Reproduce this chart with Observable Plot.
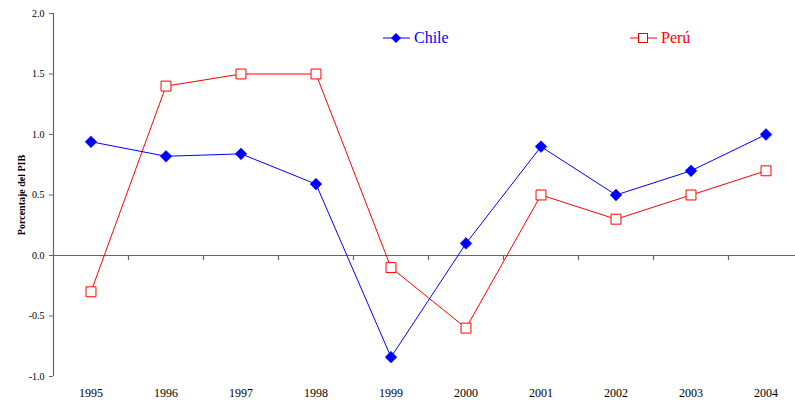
<!DOCTYPE html>
<html>
<head>
<meta charset="utf-8">
<script src="https://cdn.jsdelivr.net/npm/d3@7"></script>
<script src="https://cdn.jsdelivr.net/npm/@observablehq/plot@0.6"></script>
<style>
  body { margin: 0; background: #fff; font-family: "Liberation Serif", serif; }
  #wrap { position: relative; width: 795px; height: 405px; }
  #wrap svg text { font-family: "Liberation Serif", serif; }
  .legend { position: absolute; top: 27px; font-size: 16px; display: flex; align-items: center; font-family: "Liberation Serif", serif; }
  .legend svg { margin-right: 4px; }
</style>
</head>
<body>
<div id="wrap"></div>
<script>
const years = [1995, 1996, 1997, 1998, 1999, 2000, 2001, 2002, 2003, 2004];
const chile = [0.94, 0.82, 0.84, 0.59, -0.84, 0.10, 0.90, 0.50, 0.70, 1.00];
const peru  = [-0.30, 1.40, 1.50, 1.50, -0.10, -0.60, 0.50, 0.30, 0.50, 0.70];
const yTicks = [-1.0, -0.5, 0.0, 0.5, 1.0, 1.5, 2.0];
const seriesNames = ["Chile", "Perú"];
const seriesColors = ["#0000ff", "#ff0000"];

const chileData = years.map((y, i) => ({year: y, value: chile[i]}));
const peruData = years.map((y, i) => ({year: y, value: peru[i]}));
const xDomain = [years[0] - 0.5, years[years.length - 1] + 0.5];
const boundaries = years.slice(1).map(y => y - 0.5);
const axisColor = "#666";
const serif = "Liberation Serif, serif";

const chart = Plot.plot({
  width: 795,
  height: 405,
  marginLeft: 53,
  marginRight: 0,
  marginTop: 13,
  marginBottom: 29,
  style: {fontFamily: serif, background: "#fff"},
  x: {domain: xDomain, range: [53, 803]},
  y: {domain: [yTicks[0], yTicks[yTicks.length - 1]], range: [376, 13]},
  marks: [
    Plot.axisY({ticks: yTicks, tickFormat: d => d.toFixed(1), tickSize: 4, tickPadding: 5, fontSize: 10, fontFamily: serif, stroke: axisColor, fill: "#000", label: null}),
    Plot.axisY({ticks: [], label: "Porcentaje del PIB", labelAnchor: "center", labelOffset: 36, fontSize: 10, fontFamily: serif, fontWeight: "bold", labelArrow: "none"}),
    Plot.axisX({ticks: years, tickFormat: d => String(d), tickSize: 0, tickPadding: 12, fontSize: 12, fontFamily: serif, fill: "#000", label: null}),
    Plot.ruleX([xDomain[0]], {stroke: axisColor, strokeWidth: 1.2}),
    Plot.ruleY([0], {stroke: axisColor, strokeWidth: 1.2}),
    Plot.ruleX(boundaries, {x: d => d, y1: 0, y2: 0, insetBottom: -5, stroke: axisColor, strokeWidth: 1.2}),
    Plot.line(peruData, {x: "year", y: "value", stroke: seriesColors[1], strokeWidth: 1}),
    Plot.line(chileData, {x: "year", y: "value", stroke: seriesColors[0], strokeWidth: 1}),
    Plot.dot(peruData, {x: "year", y: "value", symbol: "square", r: 5.6, fill: "#fff", stroke: seriesColors[1], strokeWidth: 1}),
    Plot.dot(chileData, {x: "year", y: "value", symbol: "diamond2", r: 5.3, fill: seriesColors[0], stroke: seriesColors[0], strokeWidth: 0.5})
  ]
});

const wrap = document.getElementById("wrap");
wrap.appendChild(chart);

// legend overlay
const legendPos = [383, 630];
seriesNames.forEach((name, i) => {
  const div = document.createElement("div");
  div.className = "legend";
  div.style.left = legendPos[i] + "px";
  div.style.color = seriesColors[i];
  const sym = i === 0
    ? `<polygon points="13,6 18,11 13,16 8,11" fill="${seriesColors[i]}"/>`
    : `<rect x="8.5" y="6.5" width="9" height="9" fill="#fff" stroke="${seriesColors[i]}"/>`;
  div.innerHTML = `<svg width="27" height="22"><line x1="0" x2="27" y1="11" y2="11" stroke="${seriesColors[i]}" stroke-width="1"/>${sym}</svg><span>${name}</span>`;
  wrap.appendChild(div);
});
</script>
</body>
</html>
